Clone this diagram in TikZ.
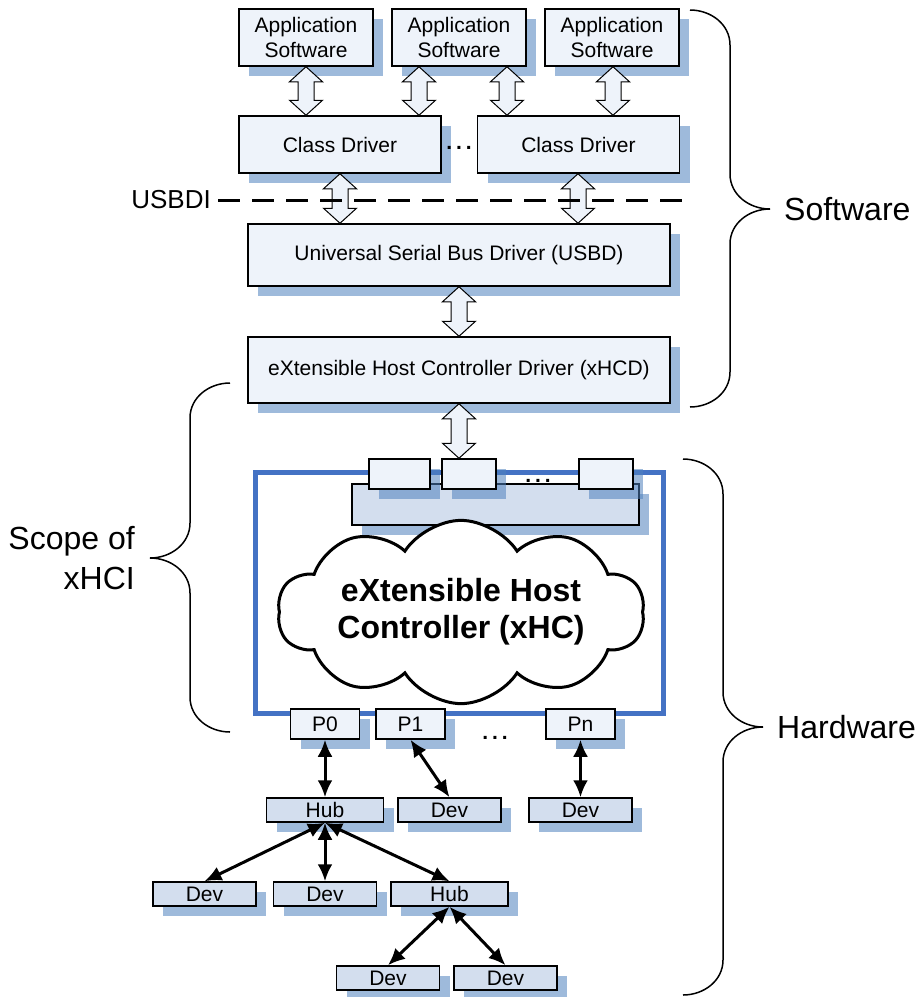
\documentclass[tikz,border=0pt]{standalone}
\usepackage{fontspec}
\setmainfont{Liberation Sans}
\usetikzlibrary{arrows.meta,calc,shadows,shapes.symbols}

\definecolor{cajaclara}{RGB}{238,243,250}
\definecolor{cajaazul}{RGB}{211,222,238}
\definecolor{sombra}{RGB}{79,129,189}
\definecolor{marcoazul}{RGB}{68,114,196}

\tikzset{
  sombreado/.style={drop shadow={shadow xshift=10pt,shadow yshift=-10pt,fill=sombra,opacity=0.55}},
  caja/.style={draw,line width=1.5pt,fill=cajaclara,sombreado,inner sep=0pt,align=center,
    font=\fontsize{21}{25}\selectfont},
  cajadev/.style={caja,fill=cajaazul,minimum height=24pt},
  puntos/.style={inner sep=0pt,font=\fontsize{21}{24}\selectfont\bfseries},
  nube/.style={cloud,draw,line width=3pt,fill=white,cloud puffs=10,cloud puff arc=115,
    aspect=2.68,minimum width=367pt,minimum height=137pt,inner sep=0pt,align=center,
    font=\fontsize{32}{37}\selectfont\bfseries},
  bloque/.style={draw,line width=1pt,fill=cajaclara},
  flecha/.style={{Latex[length=17pt,width=15pt]}-{Latex[length=17pt,width=15pt]},line width=3pt},
  llave/.style={line width=1.5pt},
  rotulo/.style={inner sep=0pt,font=\fontsize{32}{40}\selectfont}
}
\newcommand{\tresp}{.\hspace{4pt}.\hspace{4pt}.}

\begin{document}
\begin{tikzpicture}[x=1pt,y=-1pt]
\useasboundingbox (0,0) rectangle (921,997);

%Aplicaciones y drivers
\foreach \px/\n in {306/1,459/2,612/3}{
  \node[caja,minimum width=134pt,minimum height=57pt] (app\n) at (\px,37.5) {Application\\Software};
}
\node[caja,minimum width=202pt,minimum height=57pt] (cd1) at (340,144.5) {Class Driver};
\node[caja,minimum width=202pt,minimum height=57pt] (cd2) at (578.5,144.5) {Class Driver};
\node[puntos] (ptscd) at (459,148) {\tresp};
\node[caja,minimum width=422pt,minimum height=62pt] (usbd) at (459,255) {Universal Serial Bus Driver (USBD)};
\node[caja,minimum width=422pt,minimum height=66pt] (xhcd) at (459,370) {eXtensible Host Controller Driver (xHCD)};

%Controlador
\node[draw=marcoazul,line width=5pt,fill=white,minimum width=408pt,minimum height=241pt] (hcfrm) at (459,592.5) {};
\node[caja,fill=cajaazul,minimum width=287pt,minimum height=41pt] (regs) at (495.5,504.5) {};
\node[caja,minimum width=61pt,minimum height=30pt] (reg1) at (399.5,474) {};
\node[caja,minimum width=54pt,minimum height=30pt] (reg2) at (469,474) {};
\node[caja,minimum width=54pt,minimum height=30pt] (regn) at (606,474) {};
\node[puntos] (ptsreg) at (538,481) {\tresp};
\node[nube] (xhc) at (461,612) {eXtensible Host\\Controller (xHC)};

%Puertos
\foreach \px/\n/\t in {325/0/P0,410.5/1/P1,580.5/n/Pn}{
  \node[caja,minimum width=69pt,minimum height=30pt] (p\n) at (\px,724) {\t};
}
\node[puntos] (ptsp) at (495,738) {\tresp};

%Hubs y dispositivos
\node[cajadev,minimum width=117pt] (hub1) at (325,810) {Hub};
\node[cajadev,minimum width=103pt] (dev1) at (449.5,810) {Dev};
\node[cajadev,minimum width=103pt] (dev2) at (580.5,810) {Dev};
\node[cajadev,minimum width=103pt] (dev3) at (204.5,894) {Dev};
\node[cajadev,minimum width=103pt] (dev4) at (325,894) {Dev};
\node[cajadev,minimum width=117pt] (hub2) at (449.5,894) {Hub};
\node[cajadev,minimum width=103pt] (dev5) at (388,978) {Dev};
\node[cajadev,minimum width=103pt] (dev6) at (505.5,978) {Dev};

%Flechas de bloque
\foreach \px/\a/\b in {306/app1/cd1,419/app2/cd1,507/app2/cd2,613/app3/cd2,340/cd1/usbd,578/cd2/usbd,459/usbd/xhcd,459/xhcd/reg2}{
  \draw[bloque] let \p1=(\a.south), \p2=(\b.north) in
    (\px pt,\y1) -- ++(16.5pt,-15pt) -- ++(-8.5pt,0pt) -- (\px pt+8pt,\y2+15pt) -- ++(8.5pt,0pt)
    -- (\px pt,\y2) -- ++(-16.5pt,15pt) -- ++(8.5pt,0pt) -- (\px pt-8pt,\y1-15pt) -- ++(-8.5pt,0pt) -- cycle;
}

%USBDI
\node[anchor=east,inner sep=0pt,font=\fontsize{26}{30}\selectfont] (usbdi) at (211,200) {USBDI};
\coordinate (usbdifin) at (693,200);
\draw[line width=3pt,dash pattern=on 22pt off 12pt] ([xshift=7pt]usbdi.east) -- (usbdifin);

%Conexiones
\draw[flecha] (p0.south) -- (hub1.north);
\draw[flecha] (p1.south) -- (dev1.north);
\draw[flecha] (pn.south) -- (dev2.north);
\draw[flecha] (hub1.south) -- (dev3.north);
\draw[flecha] (hub1.south) -- (dev4.north);
\draw[flecha] (hub1.south) -- (hub2.north);
\draw[flecha] (hub2.south) -- (dev5.north);
\draw[flecha] (hub2.south) -- (dev6.north);

%Llaves
\draw[llave] (690,10) to[out=0,in=90] (730,45) -- (730,174) to[out=-90,in=180] (770,209)
  to[out=180,in=90] (730,244) -- (730,372) to[out=-90,in=0] (690,407);
\draw[llave] (230,383) to[out=180,in=90] (190,418) -- (190,523) to[out=-90,in=0] (150,558)
  to[out=0,in=90] (190,593) -- (190,697) to[out=-90,in=180] (230,732);
\draw[llave] (683,459) to[out=0,in=90] (723,494) -- (723,692) to[out=-90,in=180] (763,727)
  to[out=180,in=90] (723,762) -- (723,960) to[out=-90,in=0] (683,995);
\node[rotulo,anchor=west] (sw) at (784,209) {Software};
\node[rotulo,anchor=west] (hw) at (777,727) {Hardware};
\node[rotulo,anchor=east,align=right] (scope) at (135,558) {Scope of\\xHCI};
\end{tikzpicture}
\end{document}
